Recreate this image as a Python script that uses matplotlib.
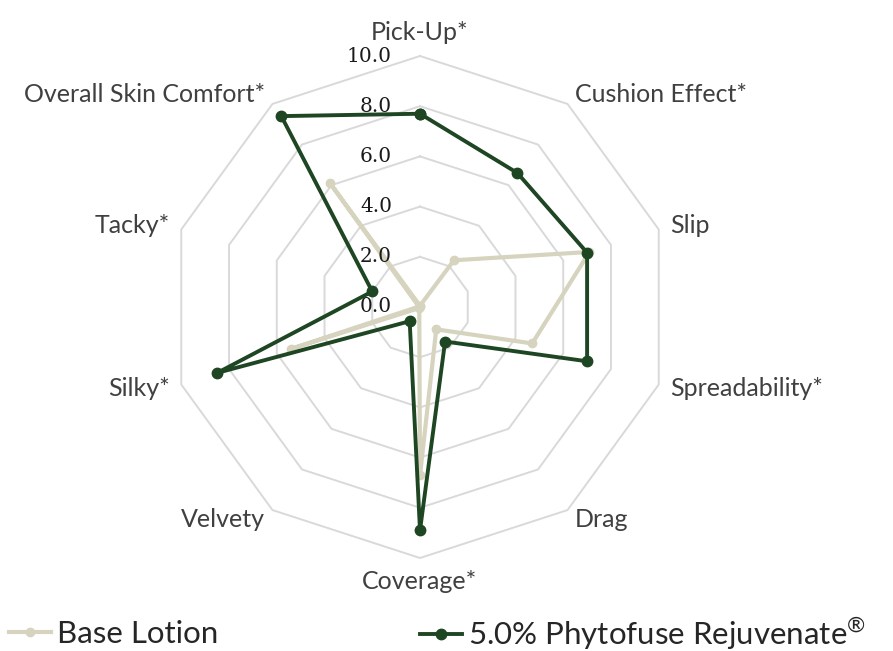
import numpy as np
import matplotlib
matplotlib.use("Agg")
from matplotlib import pyplot as plt
from matplotlib.legend import Legend

categories = ["Pick-Up*", "Cushion Effect*", "Slip", "Spreadability*", "Drag",
              "Coverage*", "Velvety", "Silky*", "Tacky*", "Overall Skin Comfort*"]
base_lotion = [0.05, 2.3, 7.1, 4.7, 1.1, 6.7, 0.05, 5.4, 0.05, 6.1]
phytofuse = [7.7, 6.6, 7.0, 7.0, 1.7, 8.9, 0.7, 8.5, 2.0, 9.4]
ring_ticks = [0, 2, 4, 6, 8, 10]

BEIGE = "#D6D4BF"
GREEN = "#1E4623"
GRID = "#D9D9D9"
TEXT = "#404040"

plt.rcParams["mathtext.fontset"] = "custom"
plt.rcParams["mathtext.rm"] = "Lato"

fig = plt.figure(figsize=(8.93, 6.51), dpi=100)
ax = fig.add_axes([169 / 893, 93 / 651, 502 / 893, 502 / 651], projection="polar")
ax.set_theta_offset(np.pi / 2)
ax.set_theta_direction(-1)
ax.set_ylim(0, 10)
ax.set_xticks([])
ax.set_yticks([])
ax.grid(False)
ax.spines["polar"].set_visible(False)

n = len(categories)
angles = np.linspace(0, 2 * np.pi, n, endpoint=False)
closed = np.append(angles, angles[0])

# decagon rings
for v in ring_ticks[1:]:
    ax.plot(closed, [v] * (n + 1), color=GRID, lw=1.4, zorder=1, clip_on=False)

for v in ring_ticks:
    ax.annotate("%.1f" % v, xy=(0, v), xytext=(-28, 0), textcoords="offset pixels",
                ha="right", va="center", fontsize=14.5, family="DejaVu Serif",
                color="#1a1a1a", zorder=10)

for th, name in zip(angles, categories):
    s, c = np.sin(th), np.cos(th)
    if abs(s) < 1e-6:
        ha = "center"
        va = "bottom" if c > 0 else "top"
    else:
        ha = "left" if s > 0 else "right"
        va = "center"
    ax.annotate(name, xy=(th, 10), xytext=(12 * s, 12 * c), textcoords="offset pixels",
                ha=ha, va=va, fontsize=18, family="Lato", color=TEXT)

l1, = ax.plot(closed, base_lotion + base_lotion[:1], color=BEIGE, lw=3, marker="o",
              markersize=6, zorder=3, clip_on=False)
l2, = ax.plot(closed, phytofuse + phytofuse[:1], color=GREEN, lw=2.8, marker="o",
              markersize=7.5, zorder=4, clip_on=False)

leg_kw = dict(frameon=False, handlelength=1.35, handletextpad=0.2,
              borderpad=0, borderaxespad=0,
              prop={"family": "Lato", "size": 22.5})
leg1 = Legend(fig, [l1], ["Base Lotion"], loc="center left",
              bbox_to_anchor=(9 / 893, 17 / 651), **leg_kw)
leg2 = Legend(fig, [l2], ["5.0% Phytofuse Rejuvenate$^{\u00ae}$"], loc="center left",
              bbox_to_anchor=(420 / 893, 17 / 651), **leg_kw)
for lg in (leg1, leg2):
    for t in lg.get_texts():
        t.set_color("#262626")
    fig.add_artist(lg)

fig.savefig("out.png", dpi=100)
